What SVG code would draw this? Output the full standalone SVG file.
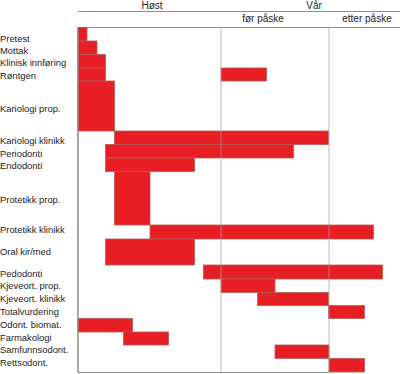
<svg xmlns="http://www.w3.org/2000/svg" width="400" height="374" viewBox="0 0 400 374">
<style>
.bg{fill:#ffffff}
.bar{fill:#e81e25;stroke:#b85a55;stroke-width:0.8}
.grid{stroke:#8c8c8c;stroke-width:1;fill:none}
.gridover{stroke:#a0a0a0;stroke-width:1;fill:none;opacity:0.7}
.lbl{font-family:"Liberation Sans",Arial,sans-serif;font-size:9.4px;fill:#222}
.hdr{font-family:"Liberation Sans",Arial,sans-serif;font-size:10px;fill:#222;text-anchor:middle}
</style>
<rect class="bg" x="0" y="0" width="400" height="374"/>
<g id="header">
<text class="hdr" x="152" y="9.3">Høst</text>
<text class="hdr" x="314" y="9.3">Vår</text>
<text class="hdr" x="263" y="21.7">før påske</text>
<text class="hdr" x="367" y="21.7">etter påske</text>
</g>
<g id="labels">
<text class="lbl" x="0" y="41.5">Pretest</text>
<text class="lbl" x="0" y="53.8">Mottak</text>
<text class="lbl" x="0" y="66.3">Klinisk innføring</text>
<text class="lbl" x="0" y="78.8">Røntgen</text>
<text class="lbl" x="0" y="112">Kariologi prop.</text>
<text class="lbl" x="0" y="144">Kariologi klinikk</text>
<text class="lbl" x="0" y="156.7">Periodonti</text>
<text class="lbl" x="0" y="169.3">Endodonti</text>
<text class="lbl" x="0" y="202.7">Protetikk prop.</text>
<text class="lbl" x="0" y="233.3">Protetikk klinikk</text>
<text class="lbl" x="0" y="255">Oral kir/med</text>
<text class="lbl" x="0" y="276.7">Pedodonti</text>
<text class="lbl" x="0" y="289.3">Kjeveort. prop.</text>
<text class="lbl" x="0" y="302.2">Kjeveort. klinikk</text>
<text class="lbl" x="0" y="315">Totalvurdering</text>
<text class="lbl" x="0" y="327.7">Odont. biomat.</text>
<text class="lbl" x="0" y="340.5">Farmakologi</text>
<text class="lbl" x="0" y="353.3">Samfunnsodont.</text>
<text class="lbl" x="0" y="366">Rettsodont.</text>
</g>
<g id="grid-under">
<line class="grid" x1="78" y1="11.5" x2="400" y2="11.5"/>
<line class="grid" x1="78" y1="27.5" x2="400" y2="27.5"/>
<line class="grid" x1="78" y1="27.5" x2="78" y2="372.5"/>
<line class="grid" x1="78" y1="372.5" x2="329" y2="372.5"/>
</g>
<g id="bars">
<g id="pretest"><rect class="bar" x="78" y="27.5" width="9" height="13.5"/></g>
<g id="mottak"><rect class="bar" x="78" y="41" width="19" height="13.5"/></g>
<g id="klinisk-innforing"><rect class="bar" x="78" y="54.5" width="27.5" height="13.5"/></g>
<g id="rontgen"><rect class="bar" x="78" y="68" width="27.5" height="13"/><rect class="bar" x="221" y="68" width="45.5" height="13"/></g>
<g id="kariologi-prop"><rect class="bar" x="78" y="81" width="36.5" height="50"/></g>
<g id="kariologi-klinikk"><rect class="bar" x="114.5" y="131" width="214" height="13.5"/></g>
<g id="periodonti"><rect class="bar" x="105.5" y="144.5" width="188" height="13.5"/></g>
<g id="endodonti"><rect class="bar" x="105.5" y="158" width="89" height="13.5"/></g>
<g id="protetikk-prop"><rect class="bar" x="114.5" y="171.5" width="35.5" height="53.5"/></g>
<g id="protetikk-klinikk"><rect class="bar" x="150" y="225" width="223.5" height="14"/></g>
<g id="oral-kir-med"><rect class="bar" x="105.5" y="239" width="89" height="26"/></g>
<g id="pedodonti"><rect class="bar" x="203.5" y="265" width="179" height="14"/></g>
<g id="kjeveort-prop"><rect class="bar" x="221" y="279" width="54" height="13.5"/></g>
<g id="kjeveort-klinikk"><rect class="bar" x="257.5" y="292.5" width="71" height="13"/></g>
<g id="totalvurdering"><rect class="bar" x="328.5" y="305.5" width="36" height="13"/></g>
<g id="odont-biomat"><rect class="bar" x="78" y="318.5" width="54.5" height="13.5"/></g>
<g id="farmakologi"><rect class="bar" x="123.5" y="332" width="45" height="13"/></g>
<g id="samfunnsodont"><rect class="bar" x="275" y="345" width="54" height="13.5"/></g>
<g id="rettsodont"><rect class="bar" x="329" y="358.5" width="35.5" height="13.5"/></g>
</g>
<g id="grid-over">
<line class="gridover" x1="221" y1="27.5" x2="221" y2="372.5"/>
<line class="gridover" x1="329" y1="27.5" x2="329" y2="372.5"/>
<line class="grid" x1="78" y1="27.5" x2="78" y2="372.5"/>
</g>
</svg>
